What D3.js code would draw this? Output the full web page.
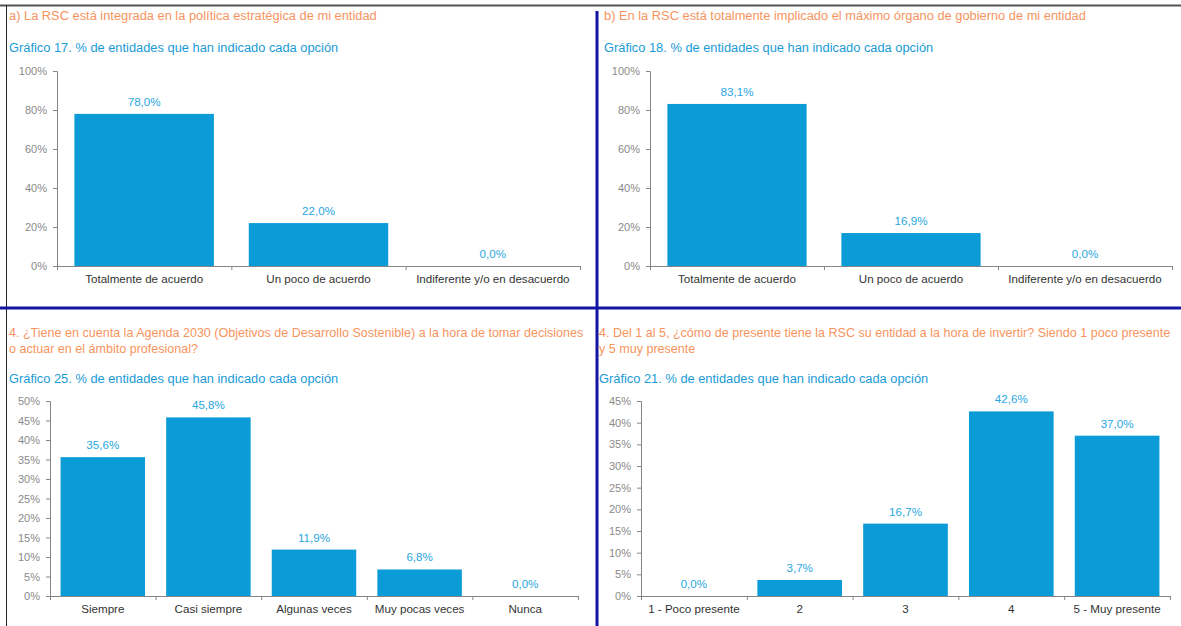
<!DOCTYPE html>
<html>
<head>
<meta charset="utf-8">
<script src="https://cdn.jsdelivr.net/npm/d3@7"></script>
<style>
  body { margin: 0; background: #fff; }
  svg { font-family: "Liberation Sans", Arial, sans-serif; display: block; }
</style>
</head>
<body>
<div class="canvas"></div>
<script>
// data
const catsAB = ['Totalmente de acuerdo', 'Un poco de acuerdo', 'Indiferente y/o en desacuerdo'];
const valsA = [78.0, 22.0, 0.0];
const valsB = [83.1, 16.9, 0.0];
const catsC = ['Siempre', 'Casi siempre', 'Algunas veces', 'Muy pocas veces', 'Nunca'];
const valsC = [35.6, 45.8, 11.9, 6.8, 0.0];
const catsD = ['1 - Poco presente', '2', '3', '4', '5 - Muy presente'];
const valsD = [0.0, 3.7, 16.7, 42.6, 37.0];
const ticksAB = [0, 20, 40, 60, 80, 100];
const ticksC = [0, 5, 10, 15, 20, 25, 30, 35, 40, 45, 50];
const ticksD = [0, 5, 10, 15, 20, 25, 30, 35, 40, 45];

const titleA = ['a) La RSC está integrada en la política estratégica de mi entidad'];
const titleB = ['b) En la RSC está totalmente implicado el máximo órgano de gobierno de mi entidad'];
const titleC = ['4. ¿Tiene en cuenta la Agenda 2030 (Objetivos de Desarrollo Sostenible) a la hora de tomar decisiones',
                'o actuar en el ámbito profesional?'];
const titleD = ['4. Del 1 al 5, ¿cómo de presente tiene la RSC su entidad a la hora de invertir? Siendo 1 poco presente',
                'y 5 muy presente'];
const subA = 'Gráfico 17. % de entidades que han indicado cada opción';
const subB = 'Gráfico 18. % de entidades que han indicado cada opción';
const subC = 'Gráfico 25. % de entidades que han indicado cada opción';
const subD = 'Gráfico 21. % de entidades que han indicado cada opción';

const orange = '#f7945e';
const blue = '#1a9bd7';
const barColor = '#0b9bd7';
const labelBlue = '#2aa7e0';
const lineBlue = '#1515a3';

const svg = d3.select('.canvas')
    .append('svg')
    .attr('width', 1181)
    .attr('height', 626);

// panels
const panels = [
    { cats: catsAB, vals: valsA, ticks: ticksAB, title: titleA, sub: subA, fs: 12.85,
      tx: 9, ty: 20, sy: 52, left: 57, right: 580, top: 71, bottom: 266 },
    { cats: catsAB, vals: valsB, ticks: ticksAB, title: titleB, sub: subB, fs: 12.85,
      tx: 604, ty: 20, sy: 52, left: 650, right: 1172, top: 71, bottom: 266 },
    { cats: catsC, vals: valsC, ticks: ticksC, title: titleC, sub: subC, fs: 12.55,
      tx: 9, ty: 337, sy: 383, left: 50, right: 578, top: 401, bottom: 596 },
    { cats: catsD, vals: valsD, ticks: ticksD, title: titleD, sub: subD, fs: 12.55,
      tx: 599, ty: 337, sy: 383, left: 641, right: 1170, top: 401, bottom: 596 }
];

panels.forEach(p => {
    const g = svg.append('g');

    // titles
    p.title.forEach((line, i) => {
        g.append('text')
            .attr('x', p.tx)
            .attr('y', p.ty + i * 16)
            .attr('fill', orange)
            .attr('font-size', p.fs)
            .text(line);
    });
    g.append('text')
        .attr('x', p.tx)
        .attr('y', p.sy)
        .attr('fill', blue)
        .attr('font-size', 12.85)
        .text(p.sub);

    // scales
    const y = d3.scaleLinear()
        .domain([0, d3.max(p.ticks)])
        .range([p.bottom, p.top]);

    const x = d3.scaleBand()
        .domain(p.cats)
        .range([p.left, p.right])
        .paddingInner(0.2)
        .paddingOuter(0.1);

    const xEdge = d3.scaleLinear()
        .domain([0, p.cats.length])
        .range([p.left, p.right]);

    // bars
    g.selectAll('rect')
        .data(p.vals)
        .enter()
        .append('rect')
        .attr('x', (d, i) => x(p.cats[i]))
        .attr('y', d => y(d))
        .attr('width', x.bandwidth())
        .attr('height', d => p.bottom - y(d))
        .attr('fill', barColor);

    // value labels
    g.selectAll('.val')
        .data(p.vals)
        .enter()
        .append('text')
        .attr('class', 'val')
        .attr('x', (d, i) => x(p.cats[i]) + x.bandwidth() / 2)
        .attr('y', d => y(d) - 8)
        .attr('text-anchor', 'middle')
        .attr('fill', labelBlue)
        .attr('font-size', 11.6)
        .text(d => d.toFixed(1).replace('.', ',') + '%');

    // y axis
    const yAxis = d3.axisLeft(y)
        .tickValues(p.ticks)
        .tickSize(4)
        .tickPadding(6)
        .tickFormat(d => d + '%');
    const yg = g.append('g')
        .attr('transform', `translate(${p.left},0)`)
        .call(yAxis);
    yg.select('.domain').attr('stroke', '#868686');
    yg.selectAll('line').attr('stroke', '#868686');
    yg.selectAll('text').attr('fill', '#8a8a8a').attr('font-size', 11)
        .attr('font-family', '"Liberation Sans", Arial, sans-serif');

    // x axis edges
    const xe = g.append('g')
        .attr('transform', `translate(0,${p.bottom})`)
        .call(d3.axisBottom(xEdge)
            .tickValues(d3.range(p.cats.length + 1))
            .tickSize(4)
            .tickSizeOuter(0)
            .tickFormat(''));
    xe.select('.domain').attr('stroke', '#868686');
    xe.selectAll('line').attr('stroke', '#868686');

    // x axis labels
    const xg = g.append('g')
        .attr('transform', `translate(0,${p.bottom})`)
        .call(d3.axisBottom(x).tickSize(0).tickPadding(9));
    xg.select('.domain').remove();
    xg.selectAll('text').attr('fill', '#333').attr('font-size', 11.6)
        .attr('font-family', '"Liberation Sans", Arial, sans-serif');
});

// frame lines
svg.append('line')
    .attr('x1', 0).attr('x2', 1181).attr('y1', 5.5).attr('y2', 5.5)
    .attr('stroke', '#555').attr('stroke-width', 2);
svg.append('line')
    .attr('x1', 6.5).attr('x2', 6.5).attr('y1', 5).attr('y2', 626)
    .attr('stroke', '#222').attr('stroke-width', 1);
svg.append('line')
    .attr('x1', 0).attr('x2', 1181).attr('y1', 308).attr('y2', 308)
    .attr('stroke', lineBlue).attr('stroke-width', 3);
svg.append('line')
    .attr('x1', 597).attr('x2', 597).attr('y1', 11).attr('y2', 626)
    .attr('stroke', lineBlue).attr('stroke-width', 3);
</script>
</body>
</html>
